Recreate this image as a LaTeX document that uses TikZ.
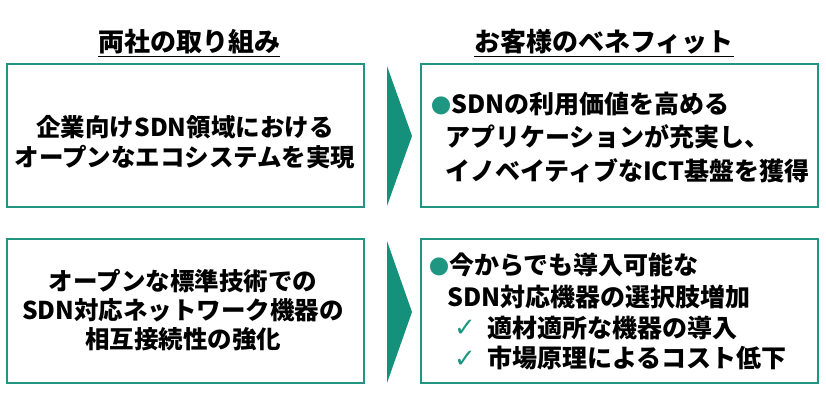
\documentclass[tikz,border=0pt]{standalone}
\usepackage{fontspec}
\setmainfont{Noto Sans CJK JP}
\newfontfamily\symfont{DejaVu Sans}
\definecolor{teal1}{HTML}{1E9682}
\definecolor{teal2}{HTML}{15907A}
\newcommand{\tbullet}{{\color{teal1}\fontsize{20}{20}\selectfont●}}
\begin{document}
\begin{tikzpicture}[x=1pt,y=-1pt,
  boxstyle/.style={draw=teal1,line width=2pt},
  arrowstyle/.style={fill=teal2,draw=none},
  head/.style={font=\fontsize{26}{30}\selectfont\bfseries,inner sep=0pt},
  ctext/.style={font=\fontsize{24.5}{30}\selectfont\bfseries,align=center,inner sep=0pt},
  ltext/.style={font=\fontsize{25}{30}\selectfont\bfseries,anchor=west,inner sep=0pt},
  chk/.style={anchor=center,inner sep=0pt,text=teal1,font=\symfont\fontsize{26}{30}\selectfont},
]
\useasboundingbox[fill=white] (0,0) rectangle (826,407);
% headers
\node[head] (h1) at (189,43) {\underline{両社の取り組み}};
\node[head] (h2) at (604,43) {\underline{お客様のベネフィット}};
% boxes
\draw[boxstyle] (7,64) rectangle (364,207);
\draw[boxstyle] (421,64) rectangle (818,207);
\draw[boxstyle] (7,239) rectangle (364,383);
\draw[boxstyle] (421,239) rectangle (818,383);
% arrows
\fill[arrowstyle] (387,66) -- (412,136) -- (387,206) -- cycle;
\fill[arrowstyle] (387,241) -- (412,312) -- (387,383) -- cycle;
% left texts
\node[ctext] (t1) at (185,142) {企業向けSDN領域における\\オープンなエコシステムを実現};
\node[ctext,font=\fontsize{24.5}{29}\selectfont\bfseries] (t2) at (183,310) {オープンな標準技術での\\SDN対応ネットワーク機器の\\相互接続性の強化};
% top right
\node[ltext] (r1) at (431,104) {\tbullet SDNの利用価値を高める};
\node[ltext] (r2) at (445,137) {アプリケーションが充実し、};
\node[ltext] (r3) at (445,171) {イノベイティブなICT基盤を獲得};
% bottom right
\node[ltext] (s1) at (429,265) {\tbullet 今からでも導入可能な};
\node[ltext] (s2) at (447,297) {SDN対応機器の選択肢増加};
\node[chk] (c1) at (465,328) {✓};
\node[ltext] (s3) at (487,328) {適材適所な機器の導入};
\node[chk] (c2) at (465,359) {✓};
\node[ltext] (s4) at (487,358) {市場原理によるコスト低下};
\end{tikzpicture}
\end{document}
